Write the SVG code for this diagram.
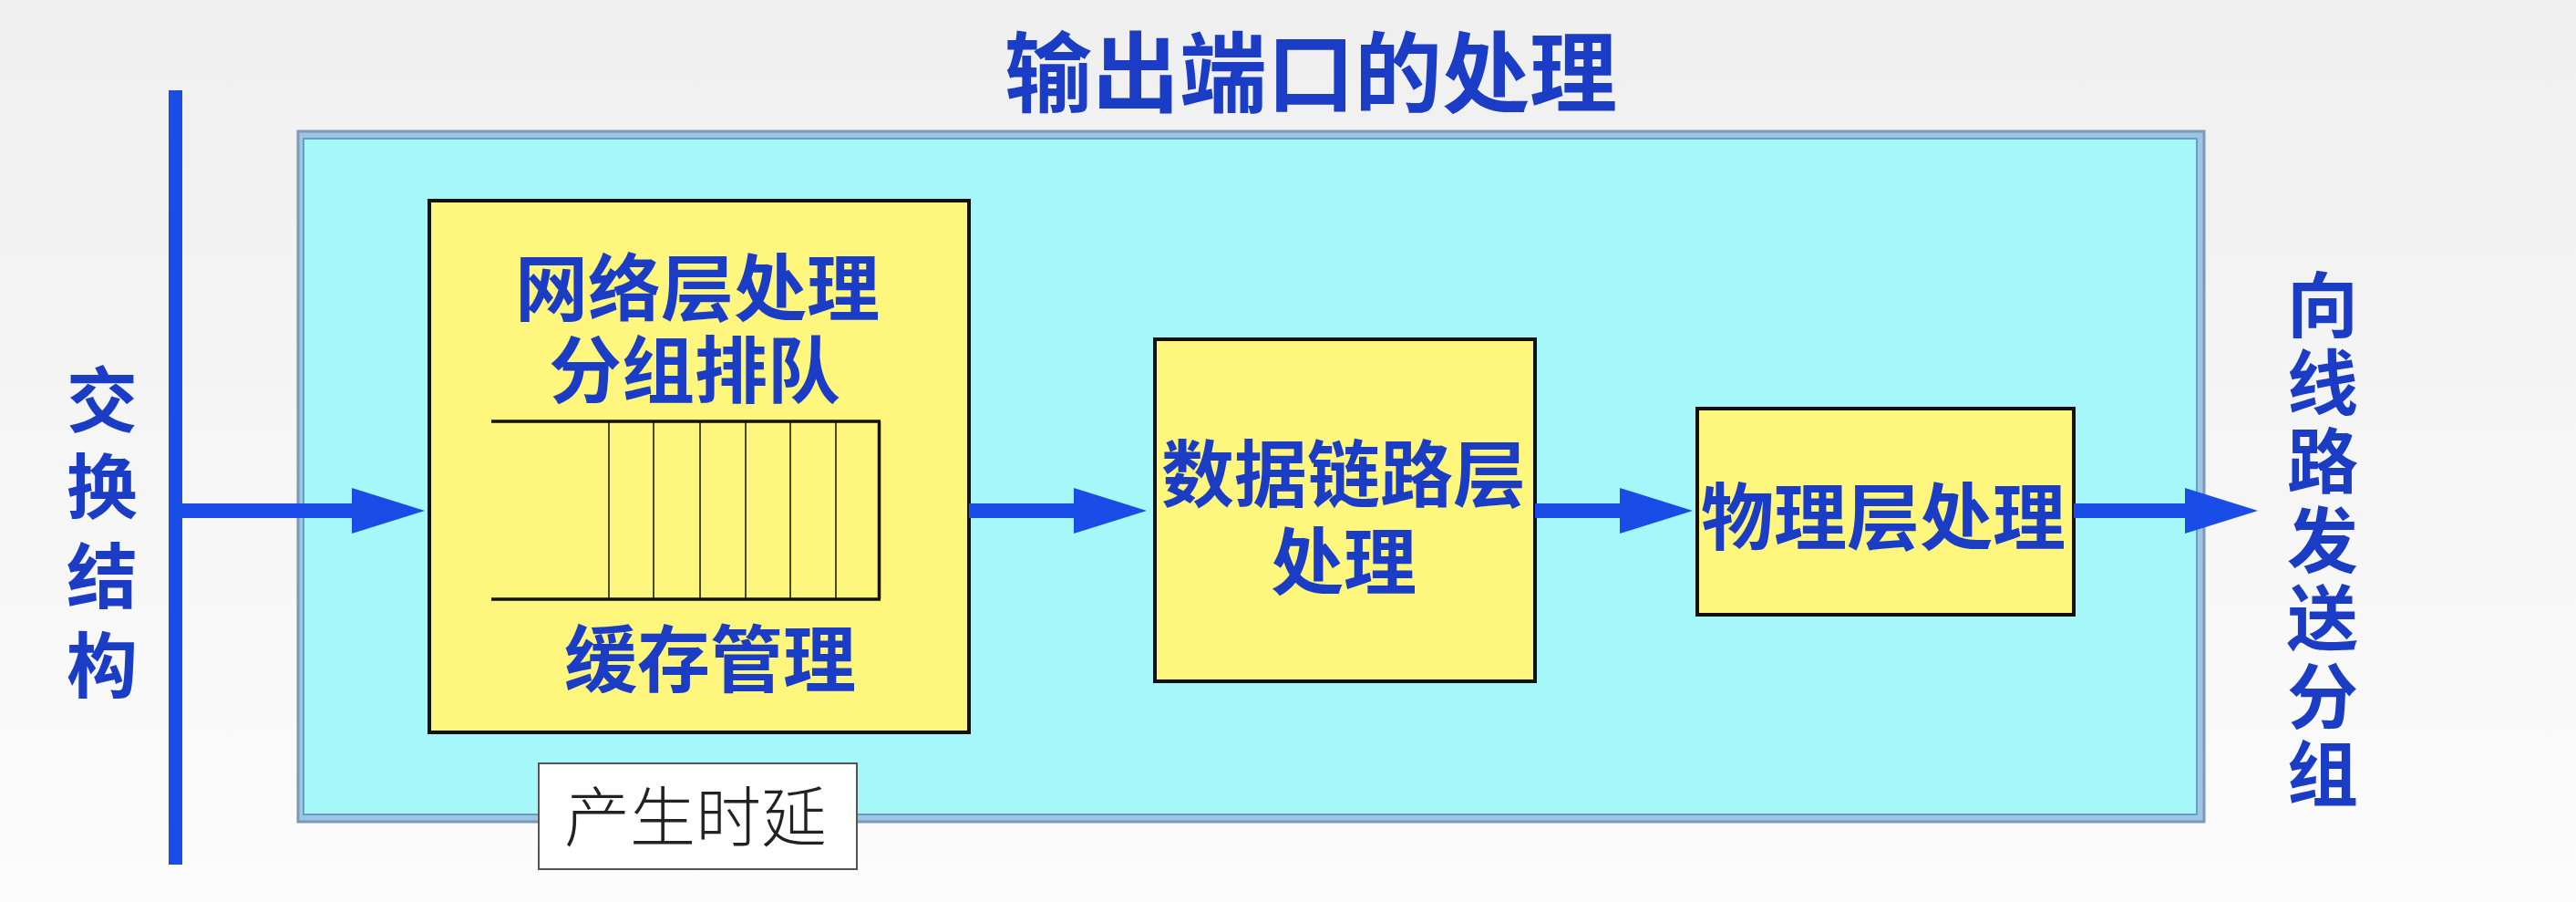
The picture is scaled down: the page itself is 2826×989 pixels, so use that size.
<svg xmlns="http://www.w3.org/2000/svg" width="2826" height="989" viewBox="0 0 2826 989">
<defs>
<linearGradient id="bg" x1="0" y1="0" x2="0" y2="1">
<stop offset="0" stop-color="#efefef"/>
<stop offset="1" stop-color="#fcfcfc"/>
</linearGradient>
<marker id="ah" markerUnits="userSpaceOnUse" markerWidth="80" markerHeight="50" viewBox="0 0 80 50" refX="0" refY="25" orient="auto">
<path d="M0,0 L80,25 L0,50 z" fill="#1a4de8"/>
</marker>
</defs>
<style>
.lbl{font-family:"Noto Sans CJK SC","Noto Sans CJK JP",sans-serif;font-weight:700;fill:#1b3cc4;text-anchor:middle;dominant-baseline:central}
.box{fill:#fff67e;stroke:#111;stroke-width:4}
.conn{stroke:#1a4de8;stroke-width:16;fill:none}
.q{stroke:#111;fill:none}
</style>
<rect x="0" y="0" width="2826" height="989" fill="url(#bg)"/>

<g id="frame">
<rect x="327" y="144" width="2091" height="757" fill="#9cc6e8" stroke="#7f98b4" stroke-width="3"/>
<rect x="333" y="152" width="2077" height="741" fill="#a6f7fa" stroke="#6a9cc0" stroke-width="2"/>
</g>

<g id="title">
<text class="lbl" x="1438" y="73" font-size="96">输出端口的处理</text>
</g>

<g id="switch-fabric">
<rect x="185" y="99" width="15" height="849" fill="#1a4de8"/>
<text class="lbl" x="112" y="434" font-size="78">交</text>
<text class="lbl" x="112" y="529" font-size="78">换</text>
<text class="lbl" x="112" y="627" font-size="78">结</text>
<text class="lbl" x="112" y="725" font-size="78">构</text>
</g>

<g id="network-layer">
<rect class="box" x="471" y="220" width="592" height="583"/>
<text class="lbl" x="765" y="310" font-size="80">网络层处理</text>
<text class="lbl" x="762" y="400" font-size="80">分组排队</text>
<line class="q" x1="539" y1="462" x2="966" y2="462" stroke-width="3.5"/>
<line class="q" x1="539" y1="657" x2="966" y2="657" stroke-width="3.5"/>
<line class="q" x1="964.5" y1="462" x2="964.5" y2="657" stroke-width="3.5"/>
<line class="q" x1="668" y1="462" x2="668" y2="657" stroke-width="1.5"/>
<line class="q" x1="717" y1="462" x2="717" y2="657" stroke-width="1.5"/>
<line class="q" x1="768" y1="462" x2="768" y2="657" stroke-width="1.5"/>
<line class="q" x1="818" y1="462" x2="818" y2="657" stroke-width="1.5"/>
<line class="q" x1="867" y1="462" x2="867" y2="657" stroke-width="1.5"/>
<line class="q" x1="917" y1="462" x2="917" y2="657" stroke-width="1.5"/>
<text class="lbl" x="779" y="717" font-size="80">缓存管理</text>
</g>

<g id="delay-note">
<rect x="591" y="837" width="349" height="116" fill="#ffffff" stroke="#555" stroke-width="2"/>
<text x="763" y="890" font-size="72" font-family="Noto Sans CJK SC, Noto Sans CJK JP, sans-serif" font-weight="300" fill="#222" text-anchor="middle" dominant-baseline="central">产生时延</text>
</g>

<g id="data-link-layer">
<rect class="box" x="1267" y="372" width="417" height="375"/>
<text class="lbl" x="1474" y="514" font-size="80">数据链路层</text>
<text class="lbl" x="1474" y="610" font-size="80">处理</text>
</g>

<g id="physical-layer">
<rect class="box" x="1862" y="448" width="413" height="226"/>
<text class="lbl" x="2066" y="561" font-size="80">物理层处理</text>
</g>

<g id="to-line">
<text class="lbl" x="2548" y="330" font-size="78">向</text>
<text class="lbl" x="2548" y="415" font-size="78">线</text>
<text class="lbl" x="2548" y="501" font-size="78">路</text>
<text class="lbl" x="2548" y="588" font-size="78">发</text>
<text class="lbl" x="2548" y="673" font-size="78">送</text>
<text class="lbl" x="2548" y="759" font-size="78">分</text>
<text class="lbl" x="2548" y="844" font-size="78">组</text>
</g>

<g id="connectors">
<line class="conn" x1="200" y1="560" x2="386" y2="560" marker-end="url(#ah)"/>
<line class="conn" x1="1063" y1="560" x2="1178" y2="560" marker-end="url(#ah)"/>
<line class="conn" x1="1684" y1="560" x2="1777" y2="560" marker-end="url(#ah)"/>
<line class="conn" x1="2275" y1="560" x2="2397" y2="560" marker-end="url(#ah)"/>
</g>
</svg>
